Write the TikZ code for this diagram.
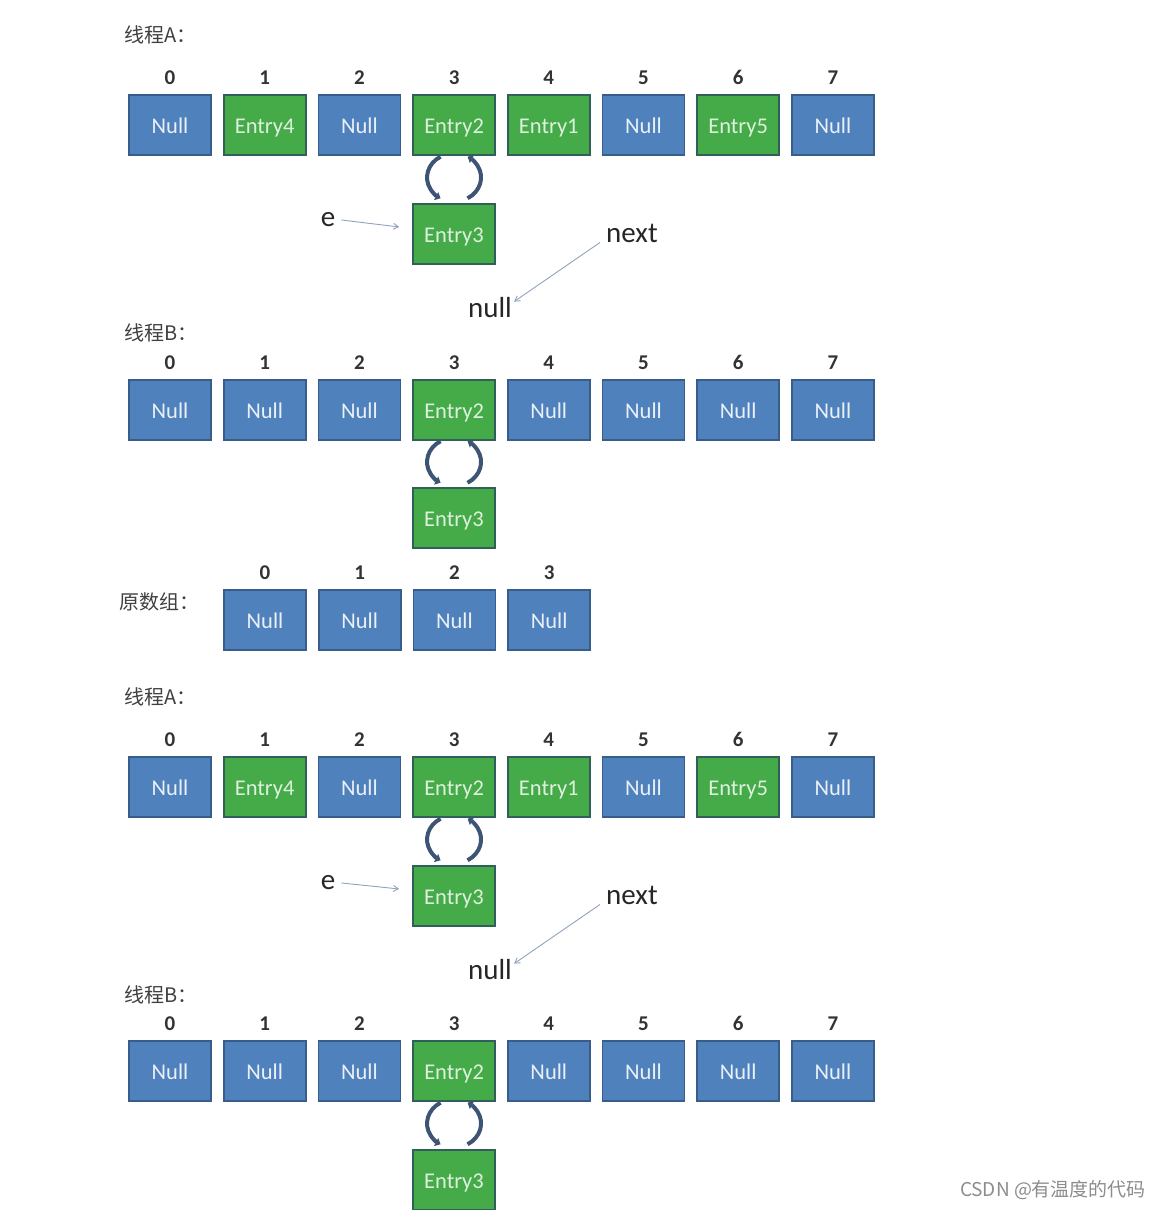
\documentclass[tikz,border=0pt]{standalone}
\usepackage{fontspec}
\setmainfont{Carlito}
\newfontfamily\cjk{Noto Sans CJK SC}
\usetikzlibrary{positioning,calc,arrows.meta}

\definecolor{nullfill}{HTML}{4F81BD}
\definecolor{nullline}{HTML}{385D8A}
\definecolor{entryfill}{HTML}{45AA48}
\definecolor{entryline}{HTML}{31605A}
\definecolor{cyclecol}{HTML}{3D5474}
\definecolor{ptrcol}{HTML}{8FA3BC}

\begin{document}
\begin{tikzpicture}[
    x=1pt, y=1pt,
    cell/.style={
        draw, line width=1.6pt,
        minimum width=82pt,
        minimum height=60pt,
        inner sep=0pt,
        text height=19pt, text depth=2pt,
        font=\fontsize{22.5}{26}\selectfont
    },
    nullbox/.style={cell, draw=nullline, fill=nullfill, text=white!88!nullfill},
    entrybox/.style={cell, draw=entryline, fill=entryfill, text=white!82!entryfill},
    idx/.style={inner sep=0pt, text=black!80, font=\bfseries\fontsize{21}{24}\selectfont},
    heading/.style={anchor=west, inner sep=0pt, text=black!75, font=\cjk\fontsize{20}{24}\selectfont},
    word/.style={inner sep=2pt, text=black!85, font=\fontsize{29}{32}\selectfont},
    ptr/.style={-{Straight Barb[length=5pt,width=6pt]}, ptrcol, line width=0.9pt},
    cyclearrow/.style={-{Triangle[length=5pt,width=9pt]}, cyclecol, line width=4pt}
]
\useasboundingbox (0,0) rectangle (1164,1210);
\def\colw{94.7}

% Thread A, first round
\node[heading] at (124,1175) {线程A：};
\foreach \i/\lab/\sty in {0/Null/nullbox, 1/Entry4/entrybox, 2/Null/nullbox, 3/Entry2/entrybox,
                          4/Entry1/entrybox, 5/Null/nullbox, 6/Entry5/entrybox, 7/Null/nullbox}{
    \node[\sty] (a\i) at ({170+\colw*\i},1085) {\lab};
    \node[idx, above=9pt of a\i] {\i};
}
\node[entrybox] (ea) at (454,976) {Entry3};
\node[word] (e1) at (328,990) {e};
\node[word] (nx1) at (632,977) {next};
\node[word] (nl1) at (490,902) {null};
\draw[ptr] ([xshift=4pt]e1.east) -- ([shift={(-13pt,7pt)}]ea.west);
\draw[ptr] ([shift={(-4pt,2pt)}]nx1.south west) -- ([shift={(0pt,-6pt)}]nl1.north east);

% Thread B, first round
\node[heading] at (124,877) {线程B：};
\foreach \i/\lab/\sty in {0/Null/nullbox, 1/Null/nullbox, 2/Null/nullbox, 3/Entry2/entrybox,
                          4/Null/nullbox, 5/Null/nullbox, 6/Null/nullbox, 7/Null/nullbox}{
    \node[\sty] (b\i) at ({170+\colw*\i},800) {\lab};
    \node[idx, above=9pt of b\i] {\i};
}
\node[entrybox] (eb) at (454,692) {Entry3};

% Original array
\node[heading] at (119,608) {原数组：};
\foreach \i in {0,...,3}{
    \node[nullbox] (o\i) at ({265+\colw*\i},590) {Null};
    \node[idx, above=9pt of o\i] {\i};
}

% Thread A, second round
\node[heading] at (124,513) {线程A：};
\foreach \i/\lab/\sty in {0/Null/nullbox, 1/Entry4/entrybox, 2/Null/nullbox, 3/Entry2/entrybox,
                          4/Entry1/entrybox, 5/Null/nullbox, 6/Entry5/entrybox, 7/Null/nullbox}{
    \node[\sty] (c\i) at ({170+\colw*\i},423) {\lab};
    \node[idx, above=9pt of c\i] {\i};
}
\node[entrybox] (ec) at (454,314) {Entry3};
\node[word] (e2) at (328,327) {e};
\node[word] (nx2) at (632,315) {next};
\node[word] (nl2) at (490,240) {null};
\draw[ptr] ([xshift=4pt]e2.east) -- ([shift={(-13pt,7pt)}]ec.west);
\draw[ptr] ([shift={(-4pt,2pt)}]nx2.south west) -- ([shift={(0pt,-6pt)}]nl2.north east);

% Thread B, second round
\node[heading] at (124,215) {线程B：};
\foreach \i/\lab/\sty in {0/Null/nullbox, 1/Null/nullbox, 2/Null/nullbox, 3/Entry2/entrybox,
                          4/Null/nullbox, 5/Null/nullbox, 6/Null/nullbox, 7/Null/nullbox}{
    \node[\sty] (d\i) at ({170+\colw*\i},139) {\lab};
    \node[idx, above=9pt of d\i] {\i};
}
\node[entrybox] (ed) at (454,30) {Entry3};

% circular links Entry2 <-> Entry3
\foreach \boxu/\boxd/\m in {a3/ea/ma, b3/eb/mb, c3/ec/mc, d3/ed/md}{
    \coordinate (\m) at ($(\boxu.south)!.5!(\boxd.north)+(0,2pt)$);
    \draw[cyclearrow] ([shift={(120:27pt and 24pt)}]\m) arc[start angle=120, end angle=240, x radius=27pt, y radius=24pt];
    \draw[cyclearrow] ([shift={(-60:27pt and 24pt)}]\m) arc[start angle=-60, end angle=60, x radius=27pt, y radius=24pt];
}

\node[text=black!45, font=\cjk\fontsize{19}{21}\selectfont] (mark) at (1053,20) {CSDN @有温度的代码};
\end{tikzpicture}
\end{document}
